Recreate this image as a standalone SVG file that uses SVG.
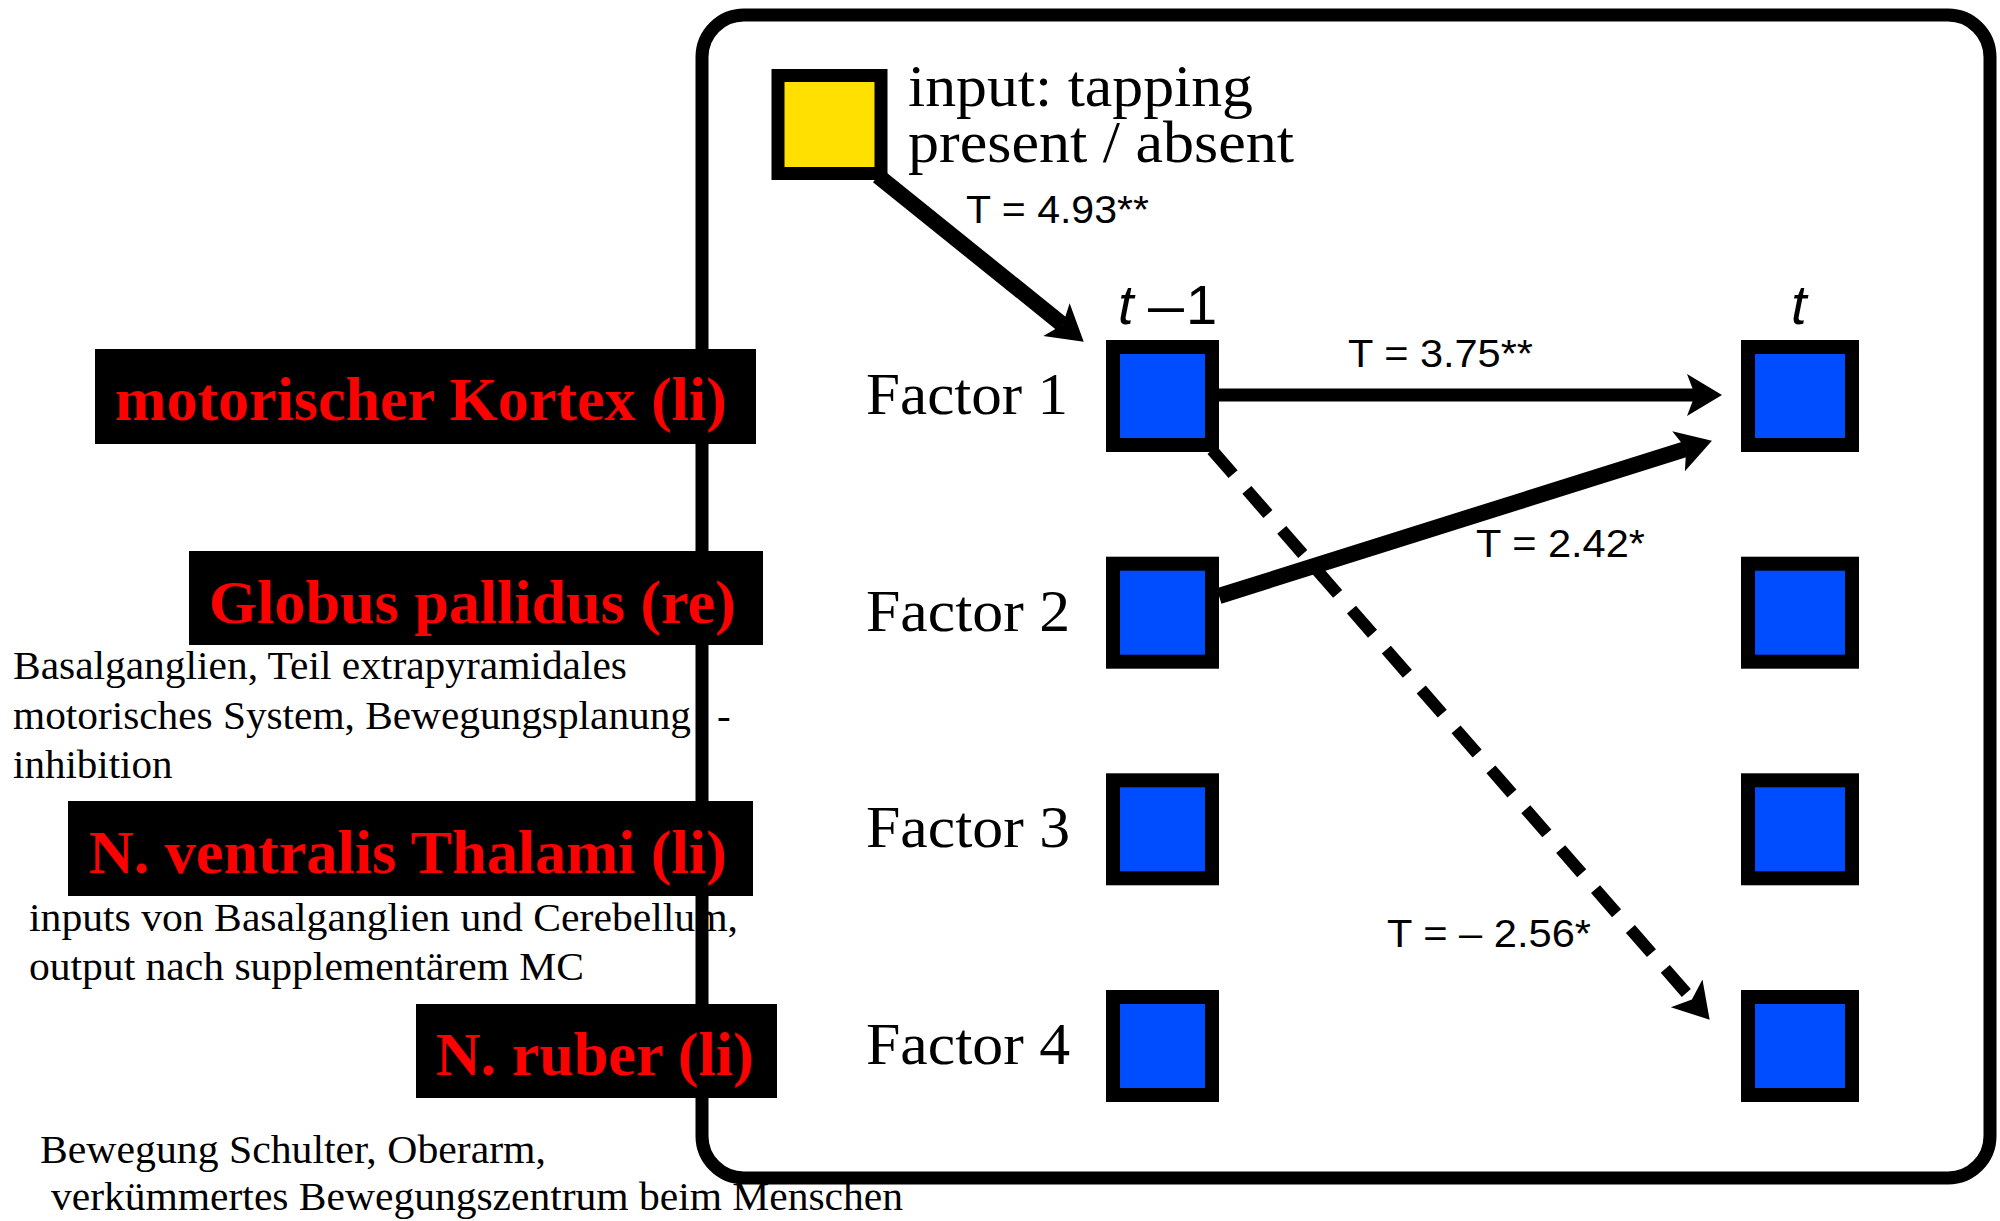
<svg xmlns="http://www.w3.org/2000/svg" width="2000" height="1221" viewBox="0 0 2000 1221">
<style>
.desc{font-family:"Liberation Serif","Times New Roman",serif;font-size:41px;fill:#000}
.lbl{font-family:"Liberation Serif","Times New Roman",serif;font-size:61px;font-weight:bold;fill:#FF0000}
.big{font-family:"Liberation Serif","Times New Roman",serif;font-size:60px;fill:#000}
.tv{font-family:"Liberation Sans",Arial,Helvetica,sans-serif;font-size:39px;fill:#000}
.tm{font-family:"Liberation Sans",Arial,Helvetica,sans-serif;font-size:56px;fill:#000}
.box{fill:#000}
.sq{fill:#004DFF;stroke:#000;stroke-width:14}
.conn{fill:none;stroke:#000;stroke-linecap:butt}
</style>
<defs>
<marker id="ah" markerUnits="userSpaceOnUse" orient="auto" markerWidth="80" markerHeight="80" refX="0" refY="0" overflow="visible">
<path d="M27,0 L-8,-21 L0,0 L-8,21 Z" fill="#000"/>
</marker>
</defs>
<rect x="0" y="0" width="2000" height="1221" fill="#fff"/>

<g id="descriptions">
<text class="desc" x="13" y="679" textLength="614" lengthAdjust="spacingAndGlyphs">Basalganglien, Teil extrapyramidales</text>
<text class="desc" y="729"><tspan x="13" textLength="678" lengthAdjust="spacingAndGlyphs">motorisches System, Bewegungsplanung</tspan><tspan x="717">-</tspan></text>
<text class="desc" x="13" y="778">inhibition</text>
<text class="desc" x="29" y="931" textLength="709" lengthAdjust="spacingAndGlyphs">inputs von Basalganglien und Cerebellum,</text>
<text class="desc" x="29" y="980" textLength="555" lengthAdjust="spacingAndGlyphs">output nach supplementärem MC</text>
<text class="desc" x="40" y="1163" textLength="506" lengthAdjust="spacingAndGlyphs">Bewegung Schulter, Oberarm,</text>
<text class="desc" x="51" y="1210" textLength="852" lengthAdjust="spacingAndGlyphs">verkümmertes Bewegungszentrum beim Menschen</text>
</g>

<g id="frame">
<rect x="702" y="15" width="1288" height="1163" rx="42" ry="42" fill="none" stroke="#000" stroke-width="13"/>
</g>

<g id="label-motorischer-kortex">
<rect class="box" x="95" y="349" width="661" height="95"/>
<text class="lbl" x="115" y="420" textLength="612" lengthAdjust="spacingAndGlyphs">motorischer Kortex (li)</text>
</g>
<g id="label-globus-pallidus">
<rect class="box" x="189" y="551" width="574" height="94"/>
<text class="lbl" x="209" y="623" textLength="527" lengthAdjust="spacingAndGlyphs">Globus pallidus (re)</text>
</g>
<g id="label-thalami">
<rect class="box" x="68" y="801" width="685" height="95"/>
<text class="lbl" x="89" y="873" textLength="638" lengthAdjust="spacingAndGlyphs">N. ventralis Thalami (li)</text>
</g>
<g id="label-ruber">
<rect class="box" x="416" y="1004" width="361" height="94"/>
<text class="lbl" x="436" y="1075" textLength="318" lengthAdjust="spacingAndGlyphs">N. ruber (li)</text>
</g>

<g id="connectors">
<line class="conn" x1="878" y1="176" x2="1062.7" y2="324.7" stroke-width="16" marker-end="url(#ah)"/>
<line class="conn" x1="1219" y1="395" x2="1695" y2="395" stroke-width="13" marker-end="url(#ah)"/>
<line class="conn" x1="1212" y1="450" x2="1691.9" y2="999.4" stroke-width="12" stroke-dasharray="32 21" marker-end="url(#ah)"/>
<line class="conn" x1="1219" y1="596" x2="1686.2" y2="448.8" stroke-width="16" marker-end="url(#ah)"/>
</g>

<g id="input-node">
<rect x="778" y="75.5" width="103" height="98" fill="#FFE000" stroke="#000" stroke-width="13"/>
<text class="big" x="908" y="106" textLength="345" lengthAdjust="spacingAndGlyphs">input: tapping</text>
<text class="big" x="908" y="162" textLength="386" lengthAdjust="spacingAndGlyphs">present / absent</text>
</g>

<g id="time-labels">
<text class="tm" y="324"><tspan x="1118" font-style="italic">t</tspan><tspan x="1148" textLength="36" lengthAdjust="spacingAndGlyphs">–</tspan><tspan x="1186">1</tspan></text>
<text class="tm" x="1791" y="324" font-style="italic">t</text>
</g>

<g id="factor1-t1">
<rect class="sq" x="1113" y="347" width="99" height="98"/>
<text class="big" x="866" y="414" textLength="202" lengthAdjust="spacingAndGlyphs">Factor 1</text>
</g>
<g id="factor2-t1">
<rect class="sq" x="1113" y="563.7" width="99" height="98"/>
<text class="big" x="866" y="631" textLength="204" lengthAdjust="spacingAndGlyphs">Factor 2</text>
</g>
<g id="factor3-t1">
<rect class="sq" x="1113" y="780.3" width="99" height="98"/>
<text class="big" x="866" y="847" textLength="204" lengthAdjust="spacingAndGlyphs">Factor 3</text>
</g>
<g id="factor4-t1">
<rect class="sq" x="1113" y="997" width="99" height="98"/>
<text class="big" x="866" y="1064" textLength="204" lengthAdjust="spacingAndGlyphs">Factor 4</text>
</g>
<g id="factor1-t">
<rect class="sq" x="1748" y="347" width="104" height="98"/>
</g>
<g id="factor2-t">
<rect class="sq" x="1748" y="563.7" width="104" height="98"/>
</g>
<g id="factor3-t">
<rect class="sq" x="1748" y="780.3" width="104" height="98"/>
</g>
<g id="factor4-t">
<rect class="sq" x="1748" y="997" width="104" height="98"/>
</g>

<g id="connector-labels">
<text class="tv" x="966" y="223" textLength="183" lengthAdjust="spacingAndGlyphs">T = 4.93**</text>
<text class="tv" x="1348" y="367" textLength="185" lengthAdjust="spacingAndGlyphs">T = 3.75**</text>
<text class="tv" x="1476" y="557" textLength="169" lengthAdjust="spacingAndGlyphs">T = 2.42*</text>
<text class="tv" x="1387" y="947" textLength="204" lengthAdjust="spacingAndGlyphs">T = – 2.56*</text>
</g>
</svg>
